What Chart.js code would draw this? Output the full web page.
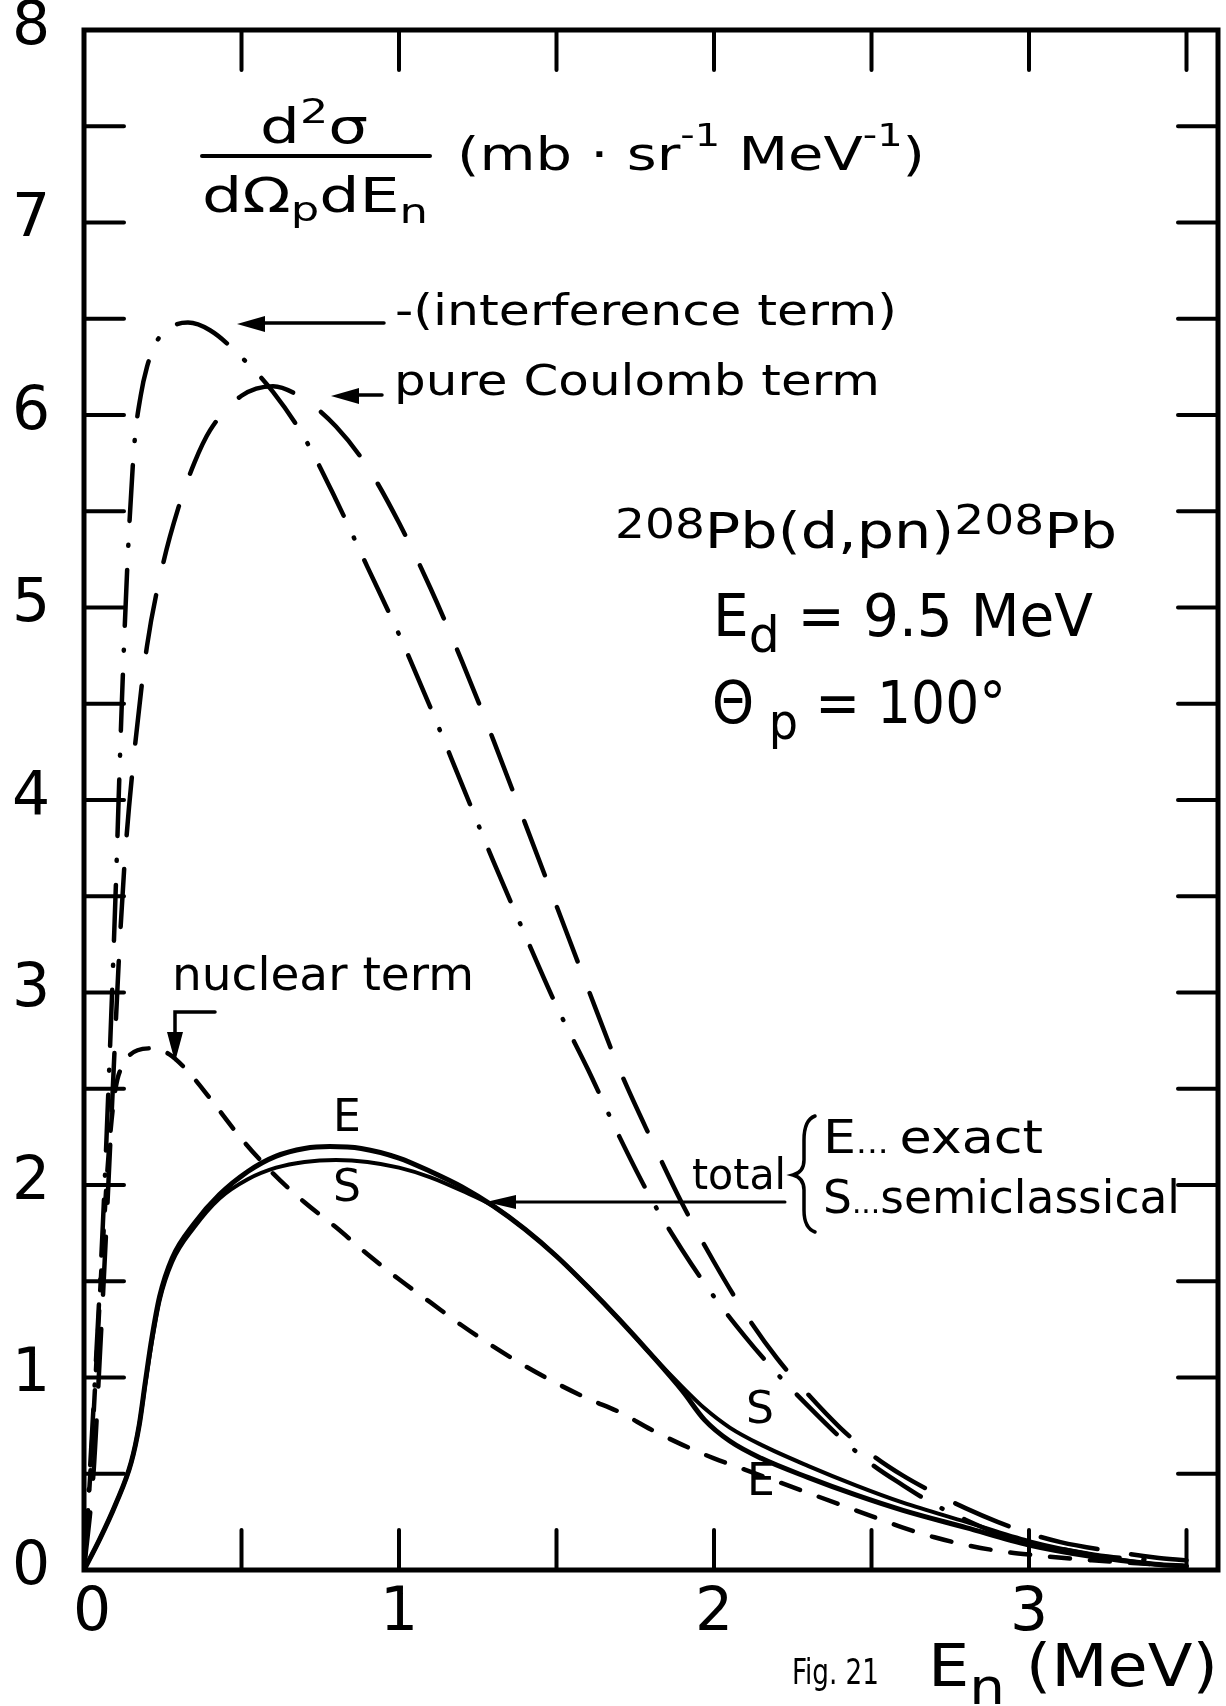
<!DOCTYPE html>
<html>
<head>
<meta charset="utf-8">
<script src="https://cdn.jsdelivr.net/npm/chart.js@4.4.1/dist/chart.umd.min.js"></script>
<style>
  html, body { margin: 0; padding: 0; background: #fff; }
  canvas { display: block; }
</style>
</head>
<body>
<canvas id="chart" width="1226" height="1706"></canvas>
<script>
// values: [E_n (MeV), d2sigma/dOmega dE (mb sr-1 MeV-1)]
const interferenceTerm = [
  [0,0],[0.02,0.55],[0.04,1.15],[0.06,1.8],[0.08,2.6],[0.1,3.5],[0.12,4.5],[0.14,5.3],
  [0.16,5.85],[0.18,6.1],[0.2,6.25],[0.23,6.38],[0.28,6.46],[0.33,6.48],[0.4,6.44],
  [0.5,6.3],[0.6,6.12],[0.7,5.88],[0.8,5.56],[0.9,5.21],[1.0,4.86],[1.1,4.48],[1.2,4.08],
  [1.3,3.68],[1.4,3.3],[1.5,2.93],[1.6,2.6],[1.7,2.25],[1.8,1.93],[1.9,1.66],[2.0,1.42],
  [2.1,1.21],[2.2,1.02],[2.3,0.85],[2.4,0.69],[2.5,0.55],[2.6,0.44],[2.7,0.34],[2.8,0.26],
  [2.9,0.19],[3.0,0.14],[3.1,0.11],[3.25,0.07],[3.4,0.05]
];
const coulombTerm = [
  [0,0],[0.03,0.5],[0.05,1.1],[0.07,1.75],[0.09,2.45],[0.11,3.15],[0.13,3.7],[0.16,4.25],
  [0.2,4.8],[0.25,5.22],[0.3,5.52],[0.35,5.75],[0.4,5.92],[0.5,6.1],[0.6,6.15],[0.7,6.08],
  [0.8,5.94],[0.9,5.73],[1.0,5.44],[1.1,5.1],[1.2,4.72],[1.3,4.31],[1.4,3.88],[1.5,3.45],
  [1.6,3.02],[1.7,2.6],[1.8,2.24],[1.9,1.9],[2.0,1.6],[2.1,1.33],[2.2,1.1],[2.3,0.91],
  [2.4,0.74],[2.5,0.6],[2.6,0.49],[2.7,0.4],[2.8,0.32],[2.9,0.25],[3.0,0.19],[3.1,0.145],
  [3.25,0.1],[3.4,0.065],[3.5,0.05]
];
const nuclearTerm = [
  [0,0],[0.02,0.5],[0.04,1.1],[0.06,1.7],[0.08,2.2],[0.1,2.5],[0.13,2.64],[0.17,2.7],
  [0.22,2.71],[0.27,2.68],[0.33,2.59],[0.4,2.45],[0.5,2.24],[0.6,2.06],[0.7,1.91],
  [0.8,1.78],[0.9,1.64],[1.0,1.51],[1.1,1.39],[1.2,1.27],[1.3,1.16],[1.4,1.06],[1.5,0.97],
  [1.6,0.89],[1.7,0.82],[1.8,0.73],[1.9,0.65],[2.0,0.58],[2.1,0.52],[2.2,0.46],[2.3,0.4],
  [2.4,0.34],[2.5,0.28],[2.6,0.22],[2.7,0.17],[2.8,0.13],[2.9,0.1],[3.0,0.08],[3.2,0.05],
  [3.4,0.03]
];
const totalExact = [
  [0,0],[0.05,0.16],[0.1,0.34],[0.15,0.56],[0.175,0.75],[0.195,0.98],[0.215,1.2],
  [0.24,1.42],[0.28,1.62],[0.35,1.8],[0.43,1.95],[0.52,2.07],[0.61,2.15],[0.7,2.19],
  [0.78,2.2],[0.88,2.19],[1.0,2.14],[1.1,2.07],[1.2,1.99],[1.3,1.89],[1.4,1.77],[1.5,1.63],
  [1.6,1.47],[1.7,1.3],[1.8,1.12],[1.9,0.93],[1.97,0.78],[2.05,0.67],[2.15,0.58],[2.3,0.48],
  [2.45,0.39],[2.6,0.31],[2.8,0.22],[3.0,0.13],[3.2,0.07],[3.4,0.03],[3.5,0.02]
];
const totalSemiclassical = [
  [0,0],[0.05,0.16],[0.1,0.34],[0.15,0.56],[0.175,0.75],[0.195,0.97],[0.215,1.18],
  [0.24,1.4],[0.28,1.6],[0.35,1.78],[0.43,1.93],[0.52,2.03],[0.61,2.09],[0.7,2.12],
  [0.8,2.13],[0.9,2.12],[1.0,2.09],[1.1,2.04],[1.2,1.97],[1.3,1.89],[1.4,1.77],[1.5,1.63],
  [1.6,1.47],[1.7,1.3],[1.8,1.12],[1.9,0.95],[1.97,0.84],[2.05,0.74],[2.15,0.65],[2.3,0.54],
  [2.45,0.44],[2.6,0.35],[2.8,0.25],[3.0,0.15],[3.2,0.08],[3.4,0.03],[3.5,0.02]
];

const xTicks = [0.5, 1, 1.5, 2, 2.5, 3, 3.5];
const yTicks = [0.5, 1, 1.5, 2, 2.5, 3, 3.5, 4, 4.5, 5, 5.5, 6, 6.5, 7, 7.5];
const xTickLabels = [0, 1, 2, 3];
const yTickLabels = [0, 1, 2, 3, 4, 5, 6, 7, 8];

const FONT = '"DejaVu Sans", sans-serif';

function pts(arr) { return arr.map(([x, y]) => ({ x, y })); }

// draw a row of text pieces (with raised/lowered bits), squeezed to a width
function drawRuns(ctx, parts, x, y, width) {
  let total = 0;
  parts.forEach(p => {
    ctx.font = p.s + 'px ' + (p.f || FONT);
    p.w = ctx.measureText(p.t).width;
    total += p.w;
  });
  const k = width ? width / total : 1;
  ctx.save();
  ctx.translate(x, y);
  ctx.scale(k, 1);
  ctx.textAlign = 'left';
  ctx.textBaseline = 'alphabetic';
  let cx = 0;
  parts.forEach(p => {
    ctx.font = p.s + 'px ' + (p.f || FONT);
    ctx.fillText(p.t, cx, p.dy || 0);
    cx += p.w;
  });
  ctx.restore();
}

function arrowHead(ctx, tx, ty, dir, len, half) {
  ctx.beginPath();
  if (dir === 'left') {
    ctx.moveTo(tx, ty);
    ctx.lineTo(tx + len, ty - half);
    ctx.lineTo(tx + len, ty + half);
  } else {
    ctx.moveTo(tx, ty);
    ctx.lineTo(tx - half, ty - len);
    ctx.lineTo(tx + half, ty - len);
  }
  ctx.closePath();
  ctx.fill();
}

const frame = {
  id: 'frame',
  afterDatasetsDraw(chart) {
    const { ctx, chartArea: a, scales: { x, y } } = chart;
    ctx.save();
    ctx.strokeStyle = '#000';
    ctx.fillStyle = '#000';
    ctx.lineCap = 'round';

    // box
    ctx.lineWidth = 5;
    ctx.strokeRect(a.left, a.top, a.right - a.left, a.bottom - a.top);

    // inward ticks
    ctx.lineWidth = 4;
    const tl = 40;
    xTicks.forEach(v => {
      const px = x.getPixelForValue(v);
      ctx.beginPath();
      ctx.moveTo(px, a.bottom); ctx.lineTo(px, a.bottom - tl);
      ctx.moveTo(px, a.top); ctx.lineTo(px, a.top + tl);
      ctx.stroke();
    });
    yTicks.forEach(v => {
      const py = y.getPixelForValue(v);
      ctx.beginPath();
      ctx.moveTo(a.left, py); ctx.lineTo(a.left + tl, py);
      ctx.moveTo(a.right, py); ctx.lineTo(a.right - tl, py);
      ctx.stroke();
    });

    // tick labels
    ctx.font = '60px ' + FONT;
    ctx.textAlign = 'center';
    ctx.textBaseline = 'middle';
    yTickLabels.forEach(v => ctx.fillText(String(v), 31, y.getPixelForValue(v) - 2));
    xTickLabels.forEach(v => ctx.fillText(String(v), x.getPixelForValue(v) + (v === 0 ? 8 : 0), 1614));

    // y quantity: fraction and units
    drawRuns(ctx, [{ t: 'd', s: 48 }, { t: '2', s: 34, dy: -20 }, { t: 'σ', s: 48 }], 260, 143, 108);
    ctx.lineWidth = 4;
    ctx.beginPath(); ctx.moveTo(202, 156); ctx.lineTo(430, 156); ctx.stroke();
    drawRuns(ctx, [{ t: 'dΩ', s: 48 }, { t: 'p', s: 34, dy: 9 }, { t: 'dE', s: 48 }, { t: 'n', s: 34, dy: 11 }], 202, 212, 226);
    drawRuns(ctx, [{ t: '(mb · sr', s: 46 }, { t: '-1', s: 32, dy: -24 }, { t: ' MeV', s: 46 },
                   { t: '-1', s: 32, dy: -24 }, { t: ')', s: 46 }], 457, 170, 468);

    // curve labels with arrows
    drawRuns(ctx, [{ t: '-(interference term)', s: 42 }], 395, 325, 502);
    ctx.lineWidth = 3.5;
    ctx.beginPath(); ctx.moveTo(384, 323); ctx.lineTo(258, 323); ctx.stroke();
    arrowHead(ctx, 237, 324, 'left', 28, 8);

    drawRuns(ctx, [{ t: 'pure Coulomb term', s: 42 }], 394, 395, 486);
    ctx.beginPath(); ctx.moveTo(382, 395); ctx.lineTo(352, 395); ctx.stroke();
    arrowHead(ctx, 331, 396, 'left', 28, 8);

    drawRuns(ctx, [{ t: 'nuclear term', s: 46 }], 172, 990, 302);
    ctx.beginPath(); ctx.moveTo(215, 1012); ctx.lineTo(175, 1012); ctx.lineTo(175, 1040); ctx.stroke();
    arrowHead(ctx, 175, 1062, 'down', 30, 8);

    // reaction text
    drawRuns(ctx, [{ t: '208', s: 40, dy: -10 }, { t: 'Pb(d,pn)', s: 50 }, { t: '208', s: 40, dy: -14 }, { t: 'Pb', s: 50 }], 615, 548, 502);
    drawRuns(ctx, [{ t: 'E', s: 58 }, { t: 'd', s: 50, dy: 16 }, { t: ' = 9.5 MeV', s: 58 }], 713, 636, 380);
    drawRuns(ctx, [{ t: 'Θ', s: 58 }, { t: ' p', s: 50, dy: 16 }, { t: ' = 100°', s: 58 }], 712, 723, 294);

    // E / S markers on totals
    ctx.font = '44px ' + FONT;
    ctx.textAlign = 'center';
    ctx.textBaseline = 'middle';
    ctx.fillText('E', 347, 1120);
    ctx.fillText('S', 347, 1190);
    ctx.fillText('S', 760, 1412);
    ctx.fillText('E', 761, 1484);

    // total legend
    drawRuns(ctx, [{ t: 'total', s: 42 }], 692, 1189, 94);
    ctx.lineWidth = 3;
    ctx.beginPath(); ctx.moveTo(785, 1202); ctx.lineTo(512, 1202); ctx.stroke();
    arrowHead(ctx, 486, 1202, 'left', 30, 7);
    // brace
    ctx.lineWidth = 3.5;
    ctx.beginPath();
    ctx.moveTo(815, 1116);
    ctx.quadraticCurveTo(804, 1120, 804, 1140);
    ctx.lineTo(804, 1160);
    ctx.quadraticCurveTo(804, 1172, 793, 1175);
    ctx.quadraticCurveTo(804, 1178, 804, 1190);
    ctx.lineTo(804, 1210);
    ctx.quadraticCurveTo(804, 1228, 815, 1232);
    ctx.stroke();
    drawRuns(ctx, [{ t: 'E', s: 46 }, { t: '... ', s: 30 }, { t: 'exact', s: 46 }], 823, 1153, 220);
    drawRuns(ctx, [{ t: 'S', s: 46 }, { t: '...', s: 30 }, { t: 'semiclassical', s: 46 }], 823, 1213, 357);

    // x quantity and figure number
    drawRuns(ctx, [{ t: 'Fig. 21', s: 36, f: '"DejaVu Sans Condensed", "DejaVu Sans", sans-serif' }], 792, 1684, 87);
    drawRuns(ctx, [{ t: 'E', s: 58 }, { t: 'n', s: 50, dy: 18 }, { t: ' (MeV)', s: 58 }], 928, 1686, 290);

    ctx.restore();
  }
};

function series(data, width, dash) {
  return {
    data: pts(data),
    borderColor: '#000',
    borderWidth: width,
    borderDash: dash,
    borderCapStyle: 'round',
    borderJoinStyle: 'round',
    cubicInterpolationMode: 'monotone',
    pointRadius: 0,
    fill: false
  };
}

new Chart(document.getElementById('chart'), {
  type: 'line',
  data: {
    datasets: [
      series(interferenceTerm, 4.5, [56, 24, 1, 24]),
      series(coulombTerm, 4.5, [58, 34]),
      series(nuclearTerm, 4.5, [20, 20]),
      series(totalExact, 5, []),
      series(totalSemiclassical, 4, [])
    ]
  },
  options: {
    responsive: false,
    animation: false,
    events: [],
    layout: { padding: { left: 84, right: 8, top: 30, bottom: 136 } },
    plugins: { legend: { display: false }, tooltip: { enabled: false } },
    scales: {
      x: { type: 'linear', min: 0, max: 3.6, display: false },
      y: { type: 'linear', min: 0, max: 8, display: false }
    }
  },
  plugins: [frame]
});
</script>
</body>
</html>
